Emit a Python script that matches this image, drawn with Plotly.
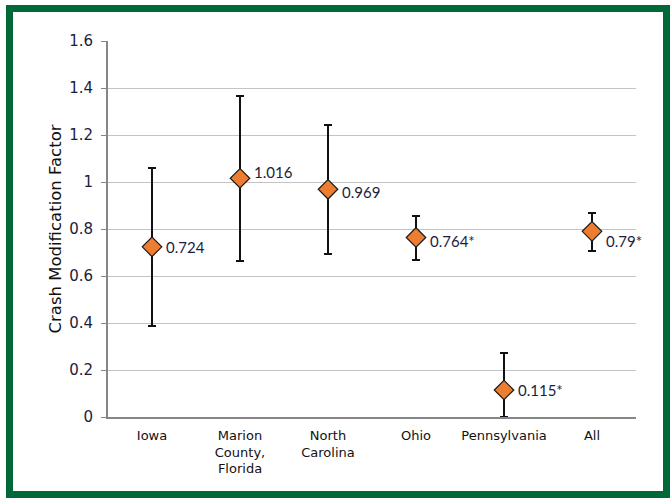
import plotly.graph_objects as go

categories = ["Iowa", "Marion<br>County,<br>Florida", "North<br>Carolina", "Ohio", "Pennsylvania", "All"]
cmf = [0.724, 1.016, 0.969, 0.764, 0.115, 0.79]
upper = [1.06, 1.366, 1.243, 0.855, 0.272, 0.868]
lower = [0.387, 0.664, 0.694, 0.668, 0.0, 0.706]
labels = ["0.724", "1.016", "0.969", "0.764*", "0.115*", "0.79*"]
label_yshift = [0, 6, -3, -4, 0, -10]

y_ticks = [0, 0.2, 0.4, 0.6, 0.8, 1, 1.2, 1.4, 1.6]
y_tick_text = ["0", "0.2", "0.4", "0.6", "0.8", "1", "1.2", "1.4", "1.6"]

W, H = 672, 503
L, R, T, B = 108, 36, 41, 86
pw, ph = W - L - R, H - T - B

def px(x):
    return (x - L) / pw

def py(y):
    return (H - B - y) / ph

fig = go.Figure()
fig.add_trace(go.Scatter(
    x=categories, y=cmf, mode="markers",
    marker=dict(symbol="diamond", size=15, color="#ED7D31",
                line=dict(color="#1a1a1a", width=1.2)),
    error_y=dict(type="data", symmetric=False,
                 array=[u - v for u, v in zip(upper, cmf)],
                 arrayminus=[v - l for v, l in zip(cmf, lower)],
                 color="#111111", thickness=2, width=4),
    showlegend=False, hoverinfo="skip",
))

for c, v, t, s in zip(categories, cmf, labels, label_yshift):
    fig.add_annotation(x=c, y=v, text=t, showarrow=False, xanchor="left",
                       yanchor="middle", xshift=12, yshift=s,
                       font=dict(family="Lato, sans-serif", size=15, color="#1c1c3c"))

# green frame
fig.add_shape(type="rect", xref="paper", yref="paper",
              x0=px(9.5), x1=px(666.5), y0=py(8.5), y1=py(494.5),
              line=dict(color="#006937", width=7), fillcolor="rgba(0,0,0,0)", layer="below")

fig.update_layout(
    width=W, height=H,
    margin=dict(l=L, r=R, t=T, b=B, autoexpand=False),
    paper_bgcolor="white", plot_bgcolor="white",
    font=dict(family="DejaVu Sans, sans-serif", size=13, color="#1a1a1a"),
    xaxis=dict(showline=True, linecolor="#868686", linewidth=2,
               showgrid=False, ticks="", tickfont=dict(size=13, color="#111111"),
               ticklabelstandoff=5,
               range=[-0.5, 5.5], fixedrange=True),
    yaxis=dict(range=[0, 1.6], tickvals=y_ticks, ticktext=y_tick_text,
               showline=True, linecolor="#868686", linewidth=2,
               showgrid=True, gridcolor="#c4c4c4", gridwidth=1,
               ticks="outside", ticklen=5, tickcolor="#868686", tickwidth=1,
               ticklabelstandoff=5,
               tickfont=dict(size=15, color="#1c1c3c"),
               title=dict(text="Crash Modification Factor", standoff=3,
                          font=dict(size=16.5, color="#111111")),
               zeroline=False, fixedrange=True),
)

fig.write_html("out.html", config={"displayModeBar": False},
               post_script="document.body.style.margin='0';")
